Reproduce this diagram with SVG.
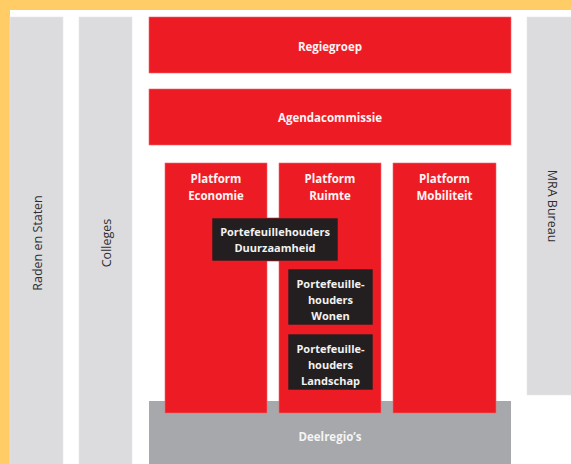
<svg xmlns="http://www.w3.org/2000/svg" width="571" height="464" viewBox="0 0 571 464">
<style>
.red{fill:#ED1C24;stroke:#F26A70;stroke-width:0.6}
.col{fill:#DCDCDE;stroke:#E6E6E8;stroke-width:0.6}
.blk{fill:#231F20;stroke:#ED1C24;stroke-width:0.6}
.wt{font-family:"Open Sans","Noto Sans",sans-serif;font-weight:bold;font-size:11.5px;fill:#FFF4F4;text-anchor:middle}
.gt{font-family:"Open Sans","Noto Sans",sans-serif;font-size:12.5px;fill:#2E2E30;text-anchor:middle}
.bt{font-family:"Open Sans","Noto Sans",sans-serif;font-weight:bold;font-size:11px;fill:#F2F2F2;text-anchor:middle}
</style>
<rect x="0" y="0" width="571" height="464" fill="#FFFFFF"/>
<rect x="0" y="0" width="571" height="10" fill="#FFCC66"/>
<rect x="0" y="0" width="10" height="464" fill="#FFCC66"/>
<g id="connectors"></g>
<g id="raden">
<rect class="col" x="10" y="17" width="53" height="450"/>
<text class="gt" transform="translate(41.5,243) rotate(-90)">Raden en Staten</text>
</g>
<g id="colleges">
<rect class="col" x="79" y="17" width="53" height="450"/>
<text class="gt" transform="translate(111,243) rotate(-90)">Colleges</text>
</g>
<g id="mra">
<rect class="col" x="527" y="17" width="50" height="378"/>
<text class="gt" transform="translate(547.5,206) rotate(90)">MRA Bureau</text>
</g>
<g id="regiegroep">
<rect class="red" x="149" y="17" width="362" height="56"/>
<text class="wt" x="330" y="51">Regiegroep</text>
</g>
<g id="agenda">
<rect class="red" x="149" y="89" width="362" height="56"/>
<text class="wt" x="330" y="122">Agendacommissie</text>
</g>
<g id="deelregios">
<rect x="149" y="401" width="362" height="66" fill="#A7A8AB"/>
<text class="wt" x="330" y="441" style="fill:#F4F4F4">Deelregio’s</text>
</g>
<g id="economie">
<rect class="red" x="165" y="163" width="102" height="250"/>
<text class="wt" x="216" y="183">Platform</text>
<text class="wt" x="216" y="200">Economie</text>
</g>
<g id="ruimte">
<rect class="red" x="279" y="163" width="102" height="250"/>
<text class="wt" x="330" y="183">Platform</text>
<text class="wt" x="330" y="200">Ruimte</text>
</g>
<g id="mobiliteit">
<rect class="red" x="393" y="163" width="103" height="250"/>
<text class="wt" x="444.5" y="183">Platform</text>
<text class="wt" x="444.5" y="200">Mobiliteit</text>
</g>
<g id="duurzaamheid">
<rect class="blk" x="212" y="218" width="126" height="43"/>
<text class="bt" x="275" y="236">Portefeuillehouders</text>
<text class="bt" x="275" y="252">Duurzaamheid</text>
</g>
<g id="wonen">
<rect class="blk" x="288" y="269" width="85" height="56"/>
<text class="bt" x="330.5" y="288">Portefeuille-</text>
<text class="bt" x="330.5" y="304">houders</text>
<text class="bt" x="330.5" y="320">Wonen</text>
</g>
<g id="landschap">
<rect class="blk" x="288" y="334" width="85" height="56"/>
<text class="bt" x="330.5" y="353">Portefeuille-</text>
<text class="bt" x="330.5" y="369">houders</text>
<text class="bt" x="330.5" y="385">Landschap</text>
</g>
</svg>
